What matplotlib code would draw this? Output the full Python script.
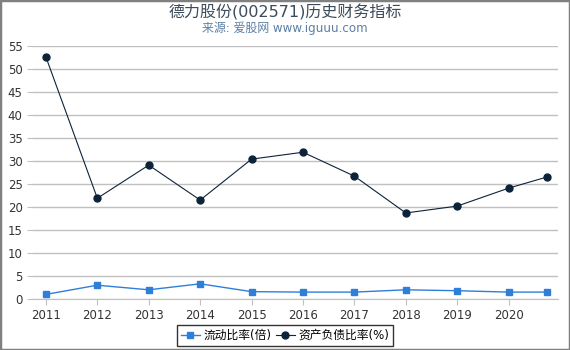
import numpy as np
import matplotlib.pyplot as plt
from matplotlib.patches import Rectangle

plt.rcParams['font.family'] = ['DejaVu Sans', 'Noto Sans CJK SC']

years = ['2011', '2012', '2013', '2014', '2015', '2016', '2017', '2018', '2019', '2020']
xpos = [0, 1, 2, 3, 4, 5, 6, 7, 8, 9, 9.74]
current_ratio = [1.0, 3.0, 2.0, 3.3, 1.6, 1.5, 1.5, 2.0, 1.8, 1.5, 1.5]
debt_ratio = [52.6, 21.9, 29.1, 21.5, 30.4, 31.9, 26.7, 18.7, 20.2, 24.1, 26.5]
yticks = [0, 5, 10, 15, 20, 25, 30, 35, 40, 45, 50, 55]

fig = plt.figure(figsize=(5.7, 3.5), dpi=100)
ax = fig.add_axes([0.058, 0.1457, 0.921, 0.723])

ax.plot(xpos, current_ratio, color='#2f7ed8', lw=1, marker='s', ms=5,
        label='流动比率(倍)', zorder=3)
ax.plot(xpos, debt_ratio, color='#0d233a', lw=0.8, marker='o', ms=5,
        label='资产负债比率(%)', zorder=3)

ax.set_xlim(-0.25, 9.96)
ax.set_ylim(0, 55)
ax.set_yticks(yticks)
ax.set_xticks(range(len(years)))
ax.set_xticklabels(years)
ax.grid(axis='y', color='#c0c0c0', lw=1)
ax.set_axisbelow(True)
for s in ['top', 'right', 'left']:
    ax.spines[s].set_visible(False)
ax.spines['bottom'].set_color('#c0c0c0')
ax.tick_params(axis='x', colors='#c0c0c0', labelcolor='#333333', labelsize=8.5, length=4)
ax.tick_params(axis='y', colors='#c0c0c0', labelcolor='#333333', labelsize=8.5, length=4)

fig.text(0.5, 0.965, '德力股份(002571)历史财务指标', ha='center', va='center',
         fontsize=11.5, color='#3b4b5b')
fig.text(0.5, 0.918, '来源: 爱股网 www.iguuu.com', ha='center', va='center',
         fontsize=8.6, color='#5b7fa6')

leg = fig.legend(loc='lower center', bbox_to_anchor=(0.5, -0.005), ncol=2,
                 fontsize=8.5, frameon=True, fancybox=False, handlelength=1.6,
                 handletextpad=0.3, columnspacing=0.4, borderpad=0.35)
leg.get_frame().set_edgecolor('black')
leg.get_frame().set_linewidth(1)

fig.patches.append(Rectangle((0, 0), 1, 1, transform=fig.transFigure, fill=False,
                             edgecolor='#808080', lw=2.5, zorder=10))

fig.savefig('out.png', dpi=100)
